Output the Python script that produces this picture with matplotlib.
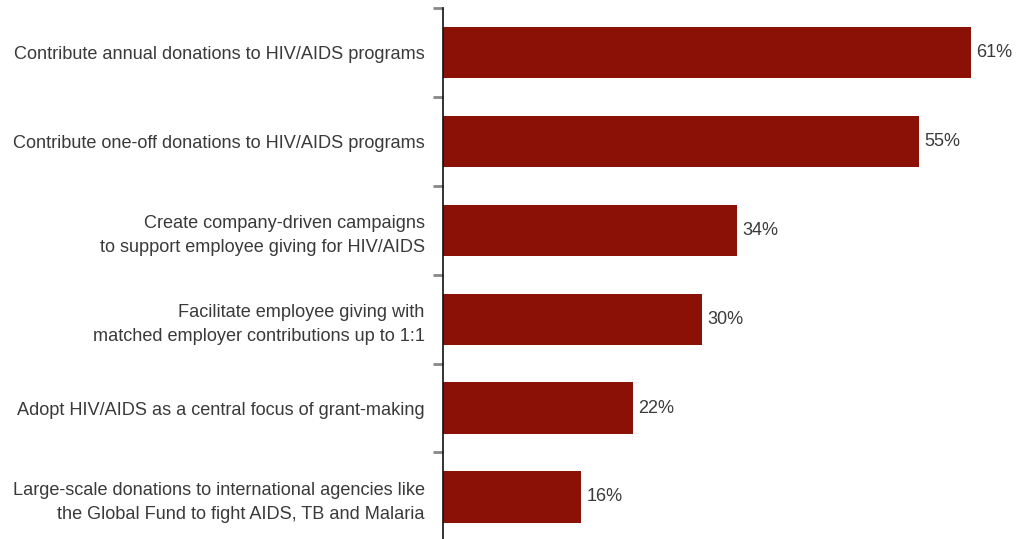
import numpy as np
import matplotlib
matplotlib.use('Agg')
import matplotlib.pyplot as plt

categories = ['Contribute annual donations to HIV/AIDS programs',
              'Contribute one-off donations to HIV/AIDS programs',
              'Create company-driven campaigns\nto support employee giving for HIV/AIDS',
              'Facilitate employee giving with\nmatched employer contributions up to 1:1',
              'Adopt HIV/AIDS as a central focus of grant-making',
              'Large-scale donations to international agencies like\nthe Global Fund to fight AIDS, TB and Malaria']
values = [61, 55, 34, 30, 22, 16]

plt.rcParams['font.family'] = ['Liberation Sans', 'DejaVu Sans']

fig = plt.figure(figsize=(10.21, 5.39), dpi=100)
ax = fig.add_axes([0.4336, -0.0045, 0.5664, 0.99])

y = np.arange(len(categories))
ax.barh(y, values, height=0.575, color='#8b1005', edgecolor='none')
ax.set_ylim(len(categories) - 0.5, -0.5)
ax.set_xlim(0, 66.8)

for yi, v in zip(y, values):
    ax.text(v + 0.6, yi, f'{v}%', va='center', ha='left', fontsize=13, color='#3a3a3a')

ax.set_yticks(y)
ax.set_yticklabels(categories, fontsize=13.05, color='#3a3a3a', ha='right',
                   multialignment='right', linespacing=1.55)
ax.tick_params(axis='y', which='major', length=0, pad=13)
ax.set_yticks(np.arange(len(categories) + 1) - 0.5, minor=True)
ax.tick_params(axis='y', which='minor', length=7.5, width=2, color='#888888', direction='out')
ax.set_xticks([])
for s in ['top', 'right', 'bottom']:
    ax.spines[s].set_visible(False)
ax.spines['left'].set_linewidth(1.2)
ax.spines['left'].set_color('#111111')

fig.savefig('out.png', dpi=100)
